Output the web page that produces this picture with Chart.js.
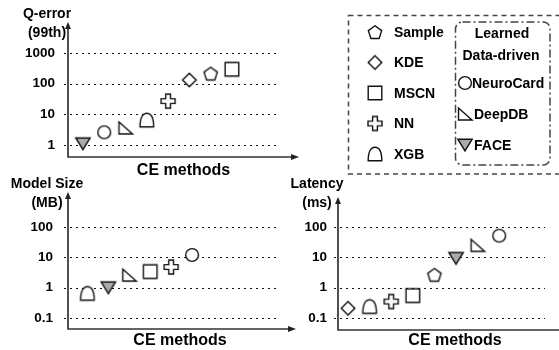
<!DOCTYPE html>
<html>
<head>
<meta charset="utf-8">
<script src="https://cdn.jsdelivr.net/npm/chart.js@4"></script>
<style>
  html, body { margin: 0; padding: 0; background: #fff; }
  #fig { position: relative; width: 559px; height: 350px; overflow: hidden; }
  #fig > div { position: absolute; }
</style>
</head>
<body>
<div id="fig">
  <div style="left:0;top:0;width:559px;height:182px"><canvas id="qerr"></canvas></div>
  <div style="left:0;top:170px;width:300px;height:180px"><canvas id="size"></canvas></div>
  <div style="left:270px;top:170px;width:310px;height:180px"><canvas id="latency"></canvas></div>
</div>
<script>
const FONT = '"Liberation Sans", Arial, Helvetica, sans-serif';

// data (methods listed left to right on each plot)
const qErrorMethods = ["FACE", "NeuroCard", "DeepDB", "XGB", "NN", "KDE", "Sample", "MSCN"];
const qErrorValues = [1.1, 2.6, 3.6, 6.5, 27, 132, 215, 295];
const qErrorTicks = [1, 10, 100, 1000];

const sizeMethods = ["XGB", "FACE", "DeepDB", "MSCN", "NN", "NeuroCard"];
const sizeValues = [0.65, 1.0, 2.6, 3.4, 4.8, 12];
const sizeTicks = [0.1, 1, 10, 100];

const latencyMethods = ["KDE", "XGB", "NN", "MSCN", "Sample", "FACE", "DeepDB", "NeuroCard"];
const latencyValues = [0.21, 0.24, 0.35, 0.55, 2.7, 9.3, 25, 52];
const latencyTicks = [0.1, 1, 10, 100];

const classicMethods = ["Sample", "KDE", "MSCN", "NN", "XGB"];
const dataDrivenMethods = ["NeuroCard", "DeepDB", "FACE"];

// marker images
function marker(draw, fill) {
  const c = document.createElement("canvas");
  c.width = 20; c.height = 20;
  const g = c.getContext("2d");
  g.translate(10, 10);
  g.lineWidth = 1.4;
  g.strokeStyle = "#111";
  g.fillStyle = fill || "#fff";
  g.lineJoin = "miter";
  g.beginPath();
  draw(g);
  g.closePath();
  g.fill();
  g.stroke();
  return c;
}
function poly(pts) {
  return g => { g.moveTo(pts[0][0], pts[0][1]); pts.slice(1).forEach(p => g.lineTo(p[0], p[1])); };
}
const pent = [];
for (let k = 0; k < 5; k++) {
  const a = -Math.PI / 2 + k * 2 * Math.PI / 5;
  pent.push([7 * Math.cos(a), 7 * Math.sin(a) + 0.8]);
}
const markers = {
  Sample: marker(poly(pent)),
  KDE: marker(poly([[0, -6.8], [6.8, 0], [0, 6.8], [-6.8, 0]])),
  MSCN: marker(g => g.rect(-6.8, -6.8, 13.6, 13.6)),
  NN: marker(poly([[-2.4, -7], [2.4, -7], [2.4, -2.4], [7, -2.4], [7, 2.4], [2.4, 2.4], [2.4, 7],
                   [-2.4, 7], [-2.4, 2.4], [-7, 2.4], [-7, -2.4], [-2.4, -2.4]])),
  XGB: marker(g => {
    g.moveTo(-6.8, 6.7);
    g.bezierCurveTo(-6.8, -2, -4.5, -6.7, 0, -6.7);
    g.bezierCurveTo(4.5, -6.7, 6.8, -2, 6.8, 6.7);
  }),
  NeuroCard: marker(g => g.arc(0, 0, 6.4, 0, Math.PI * 2)),
  DeepDB: marker(poly([[-6.5, -6], [-6.5, 6], [7, 6]])),
  FACE: marker(poly([[-7.2, -5.8], [7.2, -5.8], [0, 5.8]]), "#aaa")
};

function drawLegend(ctx) {
  ctx.save();
  ctx.strokeStyle = "#444";
  ctx.lineWidth = 1.5;
  ctx.setLineDash([5, 4]);
  ctx.strokeRect(348.5, 15.5, 220, 158.5);
  ctx.setLineDash([8, 3, 2, 3]);
  ctx.beginPath();
  ctx.roundRect(455.5, 22, 94.5, 143, 7);
  ctx.stroke();
  ctx.setLineDash([]);
  ctx.font = "bold 14px " + FONT;
  ctx.fillStyle = "#000";
  ctx.textBaseline = "middle";
  classicMethods.forEach((m, i) => {
    const y = 32 + i * 30.5;
    ctx.drawImage(markers[m], 365, y - 10);
    ctx.fillText(m, 394, y + 1);
  });
  ctx.textAlign = "center";
  ctx.fillText("Learned", 502, 34);
  ctx.fillText("Data-driven", 501, 56);
  ctx.textAlign = "left";
  dataDrivenMethods.forEach((m, i) => {
    const y = 83 + i * 31;
    ctx.drawImage(markers[m], 455, y - 10);
    ctx.fillText(m, i === 0 ? 472 : 474, y + 1);
  });
  ctx.restore();
}

const decor = {
  id: "decor",
  beforeDatasetsDraw(chart, args, o) {
    const { ctx, chartArea: a, scales: { y } } = chart;
    ctx.save();
    ctx.strokeStyle = "#111";
    ctx.lineWidth = 1;
    ctx.setLineDash([2, 4]);
    y.ticks.forEach(t => {
      const py = Math.round(y.getPixelForValue(t.value)) + 0.5;
      ctx.beginPath();
      ctx.moveTo(a.left - 4, py);
      ctx.lineTo(o.gridRight, py);
      ctx.stroke();
    });
    ctx.restore();
  },
  afterDraw(chart, args, o) {
    const { ctx, chartArea: a } = chart;
    ctx.save();
    ctx.strokeStyle = "#333";
    ctx.fillStyle = "#222";
    ctx.lineWidth = 1.7;
    ctx.beginPath();
    ctx.moveTo(a.left, a.top + 5);
    ctx.lineTo(a.left, a.bottom);
    ctx.lineTo(o.arrowX ? o.xEnd - 5 : o.xEnd, a.bottom);
    ctx.stroke();
    ctx.beginPath();
    ctx.moveTo(a.left, a.top);
    ctx.lineTo(a.left - 3, a.top + 7);
    ctx.lineTo(a.left + 3, a.top + 7);
    ctx.closePath();
    ctx.fill();
    if (o.arrowX) {
      ctx.beginPath();
      ctx.moveTo(o.xEnd, a.bottom);
      ctx.lineTo(o.xEnd - 8, a.bottom - 3);
      ctx.lineTo(o.xEnd - 8, a.bottom + 3);
      ctx.closePath();
      ctx.fill();
    }
    ctx.fillStyle = "#000";
    ctx.font = "bold 14px " + FONT;
    ctx.textAlign = "center";
    ctx.textBaseline = "middle";
    ctx.fillText(o.title1, a.left - 21, 14);
    ctx.fillText(o.title2, a.left - 21, 33);
    ctx.restore();
    if (o.legend) drawLegend(ctx);
  }
};

function makeChart(id, methods, values, ticks, c) {
  return new Chart(document.getElementById(id), {
    type: "scatter",
    data: {
      datasets: [{
        data: values.map((v, i) => ({ x: i + 1, y: v })),
        pointStyle: methods.map(m => markers[m]),
        pointRadius: 7
      }]
    },
    options: {
      animation: false,
      responsive: true,
      maintainAspectRatio: false,
      devicePixelRatio: 1,
      layout: { padding: c.padding },
      plugins: {
        legend: { display: false },
        tooltip: { enabled: false },
        decor: c.decor
      },
      scales: {
        x: {
          type: "linear",
          min: c.xMin,
          max: c.xMax,
          grid: { display: false },
          border: { display: false },
          ticks: { display: false },
          title: {
            display: true,
            text: "CE methods",
            color: "#000",
            font: { family: FONT, size: 16, weight: "bold" },
            padding: 0
          },
          afterFit: s => { s.height = c.xHeight; }
        },
        y: {
          type: "logarithmic",
          min: c.yMin,
          max: c.yMax,
          bounds: "data",
          grid: { display: false },
          border: { display: false },
          afterBuildTicks: s => { s.ticks = ticks.map(v => ({ value: v })); },
          ticks: {
            color: "#000",
            padding: c.tickPad,
            font: { family: FONT, size: 13.5, weight: "bold" },
            callback: v => String(v)
          },
          afterFit: s => { s.width = 68; }
        }
      }
    },
    plugins: [decor]
  });
}

makeChart("qerr", qErrorMethods, qErrorValues, qErrorTicks, {
  padding: { top: 22, right: 260, left: 0, bottom: 2 },
  xHeight: 23, xMin: 0.3, xMax: 11.15,
  yMin: 0.406, yMax: 10250, tickPad: 5,
  decor: { gridRight: 280, xEnd: 299, arrowX: true, title1: "Q-error", title2: "(99th)", legend: true }
});

makeChart("size", sizeMethods, sizeValues, sizeTicks, {
  padding: { top: 22, right: 1, left: 0, bottom: 0 },
  xHeight: 21, xMin: 0.074, xMax: 10.77,
  yMin: 0.0435, yMax: 1430, tickPad: 7,
  decor: { gridRight: 280, xEnd: 296, arrowX: true, title1: "Model Size", title2: "(MB)", legend: false }
});

makeChart("latency", latencyMethods, latencyValues, latencyTicks, {
  padding: { top: 27, right: 8, left: 0, bottom: 0 },
  xHeight: 20, xMin: 0.537, xMax: 11.37,
  yMin: 0.0403, yMax: 980, tickPad: 3,
  decor: { gridRight: 275, xEnd: 310, arrowX: false, title1: "Latency", title2: "(ms)", legend: false }
});
</script>
</body>
</html>
